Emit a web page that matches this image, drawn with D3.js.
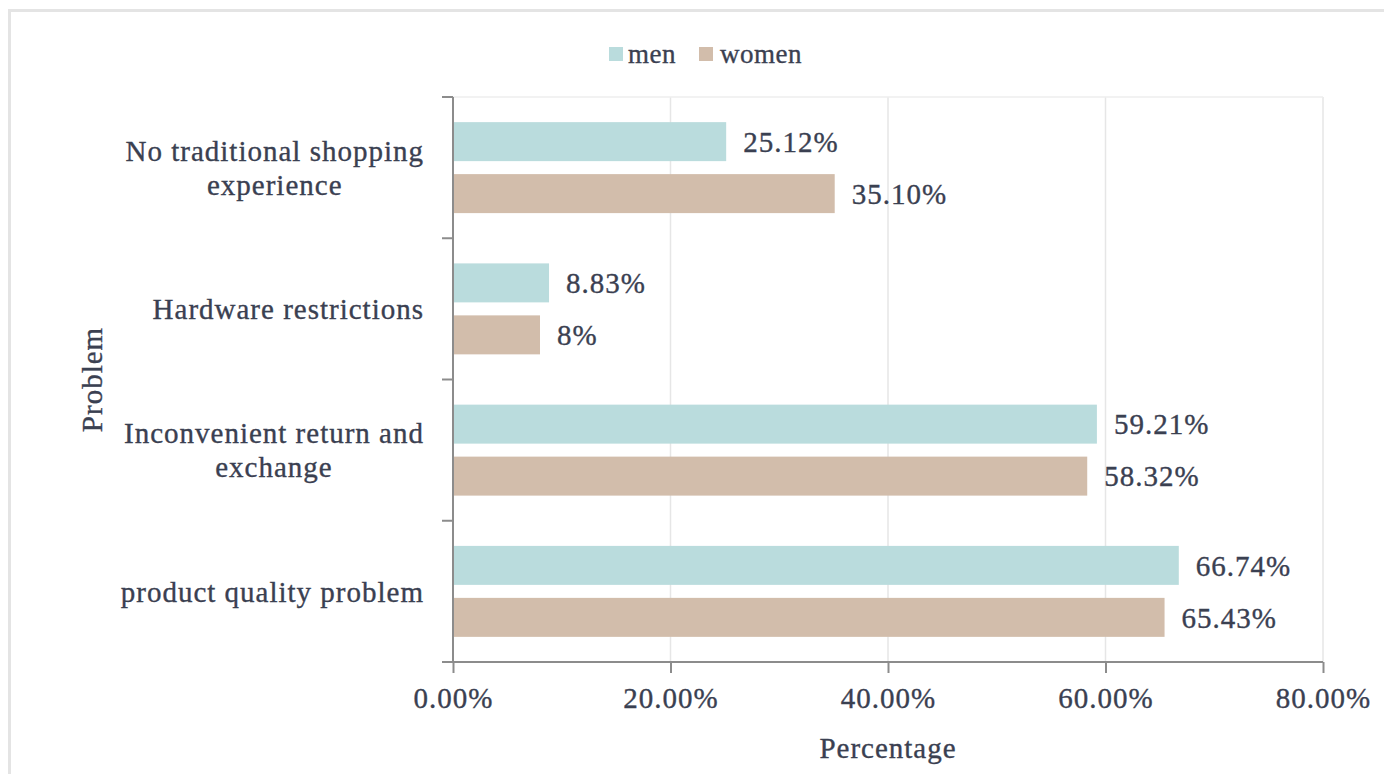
<!DOCTYPE html>
<html>
<head>
<meta charset="utf-8">
<script src="https://cdn.jsdelivr.net/npm/d3@7"></script>
<style>
  body { margin: 0; background: #fff; }
  text { font-family: "Liberation Serif", "Times New Roman", serif; fill: #3a4051; stroke: #3a4051; stroke-width: 0.35px; letter-spacing: 1px; }
</style>
</head>
<body>
<div id="chart"></div>
<script>
// data
var categories = [
  ["No traditional shopping", "experience"],
  ["Hardware restrictions"],
  ["Inconvenient return and", "exchange"],
  ["product quality problem"]
];
var seriesNames = ["men", "women"];
var menValues = [25.12, 8.83, 59.21, 66.74];
var womenValues = [35.10, 8, 58.32, 65.43];
var menLabels = ["25.12%", "8.83%", "59.21%", "66.74%"];
var womenLabels = ["35.10%", "8%", "58.32%", "65.43%"];
var xTicks = [0, 20, 40, 60, 80];

var width = 1384, height = 774;
var margin = { top: 97, right: 61, bottom: 112, left: 453 };
var colors = { men: "#badcdd", women: "#d2bdab" };
var axisColor = "#8c8c8c";
var fontSize = 29;

var svg = d3.select("#chart").append("svg")
  .attr("width", width).attr("height", height);

// outer frame
svg.append("rect")
  .attr("x", 9.5).attr("y", 10.5)
  .attr("width", 1400).attr("height", 800)
  .attr("fill", "none").attr("stroke", "#e4e4e4").attr("stroke-width", 3);

var x = d3.scaleLinear().domain([0, 80])
  .range([margin.left, width - margin.right]);

var keys = categories.map(function (d, i) { return i; });
var y0 = d3.scaleBand().domain(keys)
  .range([margin.top, height - margin.bottom])
  .paddingInner(0.356).paddingOuter(0.178);
var y1 = d3.scaleBand().domain(seriesNames)
  .range([0, y0.bandwidth()]).paddingInner(0.25);

var rows = keys.map(function (i) {
  return [
    { key: "men", value: menValues[i], label: menLabels[i] },
    { key: "women", value: womenValues[i], label: womenLabels[i] }
  ];
});

var plotTop = margin.top, plotBottom = height - margin.bottom;

// gridlines
svg.append("g").selectAll("line")
  .data(xTicks.slice(1))
  .join("line")
  .attr("x1", function (d) { return x(d); })
  .attr("x2", function (d) { return x(d); })
  .attr("y1", plotTop).attr("y2", plotBottom)
  .attr("stroke", "#e6e6e6").attr("stroke-width", 1.5);

svg.append("line")
  .attr("x1", x(0)).attr("x2", x(80))
  .attr("y1", plotTop).attr("y2", plotTop)
  .attr("stroke", "#eeeeee").attr("stroke-width", 1.5);

// bars
var groups = svg.append("g").selectAll("g")
  .data(rows)
  .join("g")
  .attr("transform", function (d, i) { return "translate(0," + y0(i) + ")"; });

groups.selectAll("rect")
  .data(function (d) { return d; })
  .join("rect")
  .attr("x", x(0))
  .attr("y", function (d) { return y1(d.key); })
  .attr("width", function (d) { return x(d.value) - x(0); })
  .attr("height", y1.bandwidth())
  .attr("fill", function (d) { return colors[d.key]; });

groups.selectAll("text")
  .data(function (d) { return d; })
  .join("text")
  .attr("x", function (d) { return x(d.value) + 17; })
  .attr("y", function (d) { return y1(d.key) + y1.bandwidth() / 2; })
  .attr("dy", "0.35em")
  .attr("font-size", fontSize)
  .text(function (d) { return d.label; });

// x axis
var xAxis = svg.append("g")
  .attr("transform", "translate(0," + plotBottom + ")")
  .call(d3.axisBottom(x).tickValues(xTicks).tickSize(11).tickPadding(14)
    .tickFormat(function (d) { return d.toFixed(2) + "%"; }));
xAxis.select(".domain").remove();
xAxis.append("line")
  .attr("x1", x(0) - 11).attr("x2", x(80))
  .attr("stroke", axisColor).attr("stroke-width", 2);
xAxis.selectAll(".tick line").attr("stroke", axisColor).attr("stroke-width", 2);
xAxis.selectAll(".tick text").attr("font-size", fontSize).attr("font-family", null).attr("fill", null);

// y axis: line plus ticks at band boundaries
var yLine = svg.append("g");
yLine.append("line")
  .attr("x1", x(0)).attr("x2", x(0))
  .attr("y1", plotTop).attr("y2", plotBottom)
  .attr("stroke", axisColor).attr("stroke-width", 2);
var step = y0.step();
yLine.selectAll("line.tk")
  .data(d3.range(categories.length + 1))
  .join("line")
  .attr("class", "tk")
  .attr("x1", x(0) - 11).attr("x2", x(0))
  .attr("y1", function (d) { return plotTop + d * step; })
  .attr("y2", function (d) { return plotTop + d * step; })
  .attr("stroke", axisColor).attr("stroke-width", 2);

// category labels (centered lines, block right edge near axis)
var labelRight = x(0) - 29;
categories.forEach(function (lines, i) {
  var cy = y0(i) + y0.bandwidth() / 2;
  var g = svg.append("g");
  var texts = g.selectAll("text")
    .data(lines)
    .join("text")
    .attr("font-size", fontSize)
    .attr("text-anchor", "middle")
    .attr("dy", "0.35em")
    .attr("y", function (d, j) { return cy + (j - (lines.length - 1) / 2) * 34; })
    .text(function (d) { return d; });
  var maxW = d3.max(texts.nodes(), function (n) { return n.getComputedTextLength(); });
  texts.attr("x", labelRight - maxW / 2);
});

// axis titles
svg.append("text")
  .attr("x", (x(0) + x(80)) / 2).attr("y", 748)
  .attr("text-anchor", "middle").attr("dy", "0.35em")
  .attr("font-size", fontSize)
  .text("Percentage");

svg.append("text")
  .attr("transform", "translate(92," + ((plotTop + plotBottom) / 2) + ") rotate(-90)")
  .attr("text-anchor", "middle").attr("dy", "0.35em")
  .attr("font-size", fontSize)
  .text("Problem");

// legend
var legendItems = [
  { key: "men", sx: 609, tx: 628 },
  { key: "women", sx: 699, tx: 720 }
];
var legend = svg.append("g");
legend.selectAll("rect")
  .data(legendItems)
  .join("rect")
  .attr("x", function (d) { return d.sx; }).attr("y", 47)
  .attr("width", 14).attr("height", 14)
  .attr("fill", function (d) { return colors[d.key]; });
legend.selectAll("text")
  .data(legendItems)
  .join("text")
  .attr("x", function (d) { return d.tx; }).attr("y", 54)
  .attr("dy", "0.35em")
  .attr("font-size", 27)
  .style("letter-spacing", "0.5px")
  .text(function (d) { return d.key; });
</script>
</body>
</html>
